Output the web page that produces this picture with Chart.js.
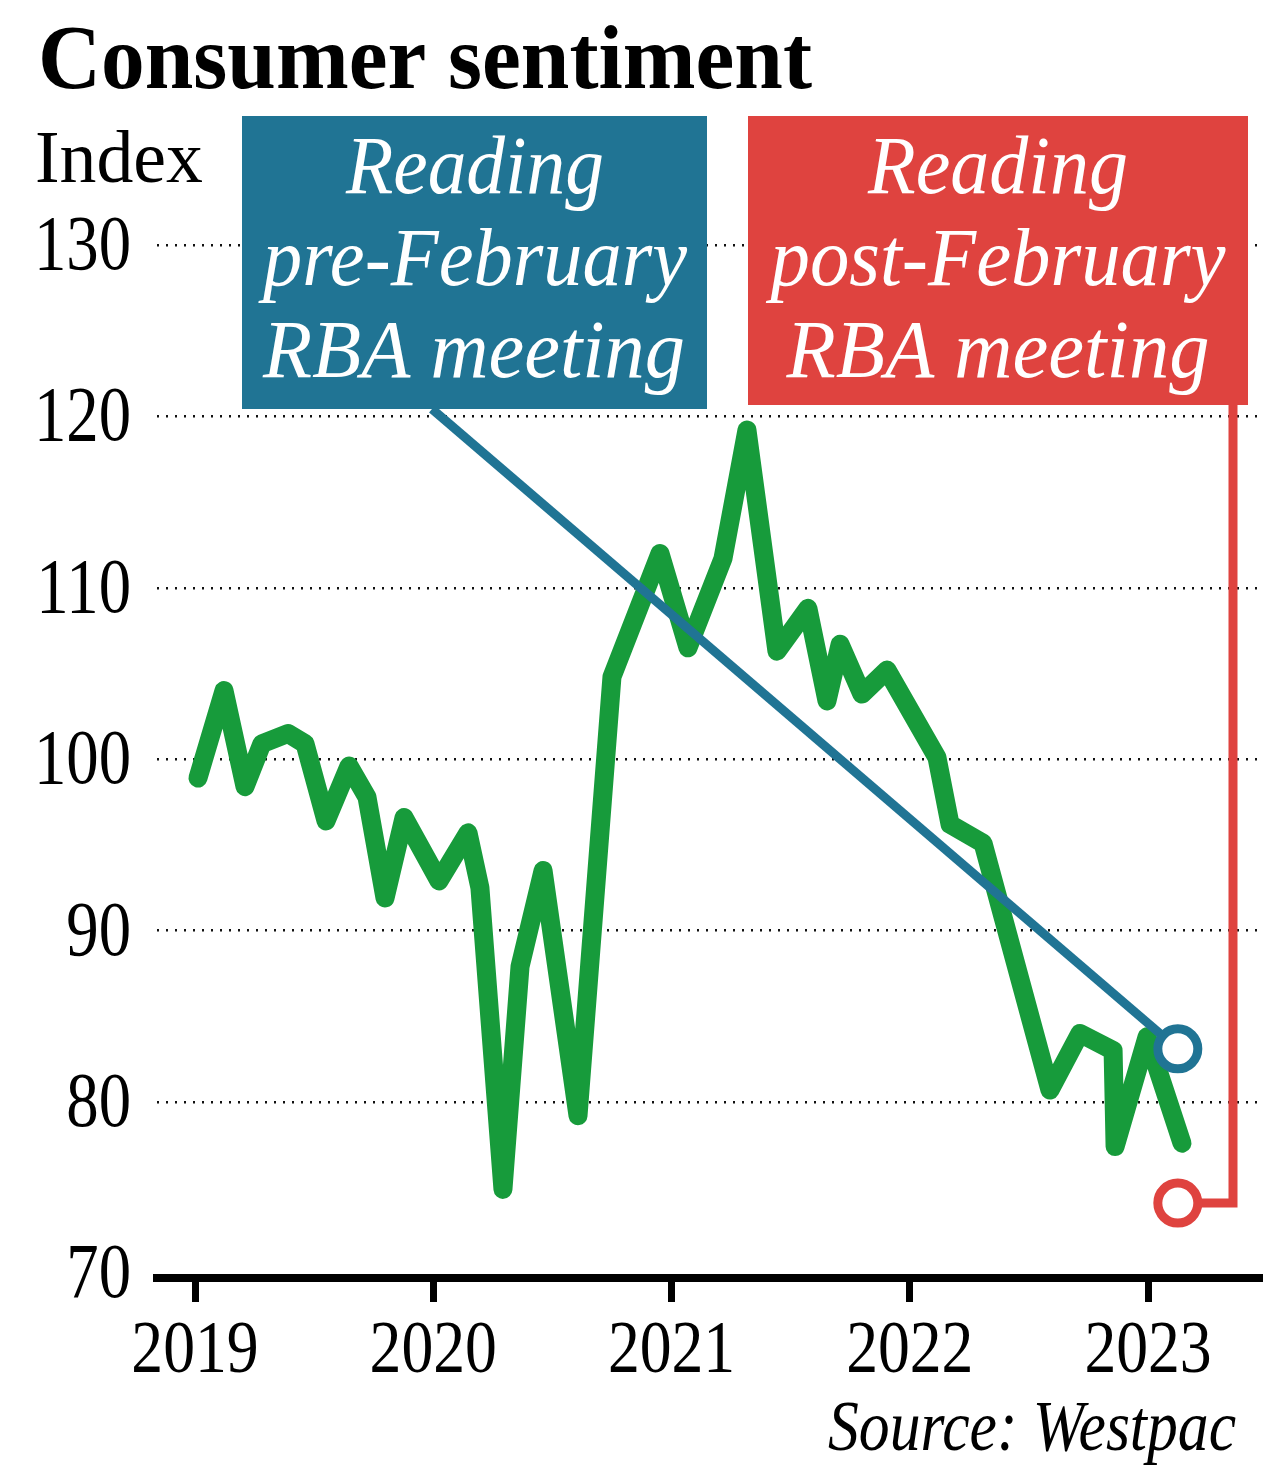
<!DOCTYPE html>
<html lang="en">
<head>
  <meta charset="UTF-8" />
  <title>Consumer sentiment</title>
  <script src="https://cdn.jsdelivr.net/npm/chart.js"></script>
  <style>
    html, body { margin: 0; padding: 0; background: #fff; }
    canvas { display: block; }
  </style>
</head>
<body>
  <canvas id="sentimentChart" width="1280" height="1482"></canvas>

  <script>
    // months since Jan 2019 for each survey
    const surveyMonth = [0.15, 1.46, 2.52, 3.37, 4.68, 5.54, 6.60, 7.76, 8.66, 9.57,
      10.53, 12.29, 13.75, 14.35, 15.51, 16.37, 17.53, 19.29, 21.0, 23.42,
      24.83, 26.59, 27.80, 29.31, 30.87, 31.83, 32.49, 33.59, 34.85, 37.37,
      38.03, 39.69, 43.06, 44.57, 46.24, 46.34, 47.95, 49.71];
    const sentiment = [98.9, 104.0, 98.4, 100.9, 101.5, 100.9, 96.4, 99.6, 97.8, 91.9,
      96.6, 92.9, 95.7, 92.5, 74.9, 87.9, 93.5, 79.2, 104.8, 112.0,
      106.5, 111.7, 119.2, 106.3, 108.8, 103.4, 106.7, 103.8, 105.2, 100.1,
      96.2, 95.1, 80.7, 84.0, 83.0, 77.4, 83.8, 77.6];

    const yearTicks = [0, 12, 24, 36, 48];
    const yearLabels = ['2019', '2020', '2021', '2022', '2023'];
    const indexTicks = [70, 80, 90, 100, 110, 120, 130];

    // February 2023 split reading
    const splitMonth = 49.5;
    const preMeeting = 83.1;
    const postMeeting = 74.1;

    const GREEN = '#179b3b', BLUE = '#207494', RED = '#df433f';
    const SERIF = '"Liberation Serif", "Times New Roman", serif';

    // draw text squeezed horizontally by sx
    function condText(ctx, str, x, y, font, sx, align, color) {
      ctx.save();
      ctx.font = font;
      ctx.fillStyle = color || '#000';
      ctx.textBaseline = 'alphabetic';
      ctx.textAlign = 'left';
      const w = ctx.measureText(str).width * sx;
      let left = x;
      if (align === 'center') left = x - w / 2;
      else if (align === 'right') left = x - w;
      ctx.translate(left, y);
      ctx.scale(sx, 1);
      ctx.fillText(str, 0, 0);
      ctx.restore();
    }

    // draw text stretched to a given width
    function fitText(ctx, str, x, y, font, width, align, color) {
      ctx.save();
      ctx.font = font;
      const sx = width / ctx.measureText(str).width;
      ctx.restore();
      condText(ctx, str, x, y, font, sx, align, color);
    }

    const connectors = {
      id: 'connectors',
      afterDatasetDraw(chart, args) {
        if (args.index !== 2) return;
        const ctx = chart.ctx;
        const xs = chart.scales.x, ys = chart.scales.y;
        const px = xs.getPixelForValue(splitMonth);
        const pre = ys.getPixelForValue(preMeeting);
        const post = ys.getPixelForValue(postMeeting);
        ctx.save();
        ctx.lineWidth = 9;
        ctx.strokeStyle = BLUE;
        ctx.beginPath();
        ctx.moveTo(432, 409);
        ctx.lineTo(px, pre);
        ctx.stroke();
        ctx.strokeStyle = RED;
        ctx.lineJoin = 'miter';
        ctx.beginPath();
        ctx.moveTo(1233, 405);
        ctx.lineTo(1233, post);
        ctx.lineTo(px, post);
        ctx.stroke();
        ctx.restore();
      }
    };

    const labels = {
      id: 'labels',
      afterDraw(chart) {
        const ctx = chart.ctx;
        const xs = chart.scales.x, ys = chart.scales.y;

        fitText(ctx, 'Consumer sentiment', 38, 88, `bold 92px ${SERIF}`, 774, 'left');
        fitText(ctx, 'Index', 35, 182, `74px ${SERIF}`, 168, 'left');

        indexTicks.forEach(v => {
          condText(ctx, String(v), 131, ys.getPixelForValue(v) + 24, `78px ${SERIF}`, 0.83, 'right');
        });
        yearTicks.forEach((m, i) => {
          condText(ctx, yearLabels[i], xs.getPixelForValue(m), 1372, `74px ${SERIF}`, 0.86, 'center');
        });

        fitText(ctx, 'Source: Westpac', 1236, 1450, `italic 72px ${SERIF}`, 408, 'right');

        // annotation boxes
        ctx.fillStyle = BLUE;
        ctx.fillRect(242, 116, 465, 293);
        ctx.fillStyle = RED;
        ctx.fillRect(748, 116, 500, 289);

        const boxFont = `italic 82px ${SERIF}`;
        fitText(ctx, 'Reading', 475, 193, boxFont, 258, 'center', '#fff');
        fitText(ctx, 'pre-February', 475, 285, boxFont, 424, 'center', '#fff');
        fitText(ctx, 'RBA meeting', 474, 377, boxFont, 422, 'center', '#fff');
        fitText(ctx, 'Reading', 998, 193, boxFont, 260, 'center', '#fff');
        fitText(ctx, 'post-February', 998, 285, boxFont, 455, 'center', '#fff');
        fitText(ctx, 'RBA meeting', 998, 377, boxFont, 423, 'center', '#fff');
      }
    };

    const ctx = document.getElementById('sentimentChart').getContext('2d');
    new Chart(ctx, {
      type: 'line',
      data: {
        datasets: [
          {
            data: [{ x: splitMonth, y: preMeeting }],
            showLine: false,
            pointRadius: 20,
            pointBorderWidth: 9,
            pointBackgroundColor: '#fff',
            pointBorderColor: BLUE,
            order: 1
          },
          {
            data: [{ x: splitMonth, y: postMeeting }],
            showLine: false,
            pointRadius: 20,
            pointBorderWidth: 9,
            pointBackgroundColor: '#fff',
            pointBorderColor: RED,
            order: 1
          },
          {
            data: surveyMonth.map((m, i) => ({ x: m, y: sentiment[i] })),
            borderColor: GREEN,
            borderWidth: 19,
            borderJoinStyle: 'round',
            borderCapStyle: 'round',
            pointRadius: 0,
            tension: 0,
            order: 2
          }
        ]
      },
      options: {
        responsive: false,
        animation: false,
        devicePixelRatio: 1,
        layout: { autoPadding: false, padding: { top: 245, right: 18, left: 0, bottom: 0 } },
        plugins: { legend: { display: false }, tooltip: { enabled: false } },
        scales: {
          x: {
            type: 'linear',
            min: -1.914,
            max: 53.74,
            afterBuildTicks: s => { s.ticks = yearTicks.map(v => ({ value: v })); },
            afterFit: s => { s.height = 204; },
            ticks: { display: false },
            grid: {
              display: true,
              drawOnChartArea: false,
              drawTicks: true,
              tickLength: 24,
              tickWidth: 7,
              tickColor: '#000'
            },
            border: { display: true, color: '#000', width: 8 }
          },
          y: {
            min: 69.73,
            max: 130,
            afterBuildTicks: s => { s.ticks = indexTicks.map(v => ({ value: v })); },
            afterFit: s => { s.width = 157; },
            ticks: { display: false },
            grid: {
              drawTicks: false,
              lineWidth: 2.5,
              color: c => (c.tick && c.tick.value === 70) ? 'rgba(0,0,0,0)' : '#111'
            },
            border: { display: false, dash: [2, 7] }
          }
        }
      },
      plugins: [connectors, labels]
    });
  </script>
</body>
</html>
